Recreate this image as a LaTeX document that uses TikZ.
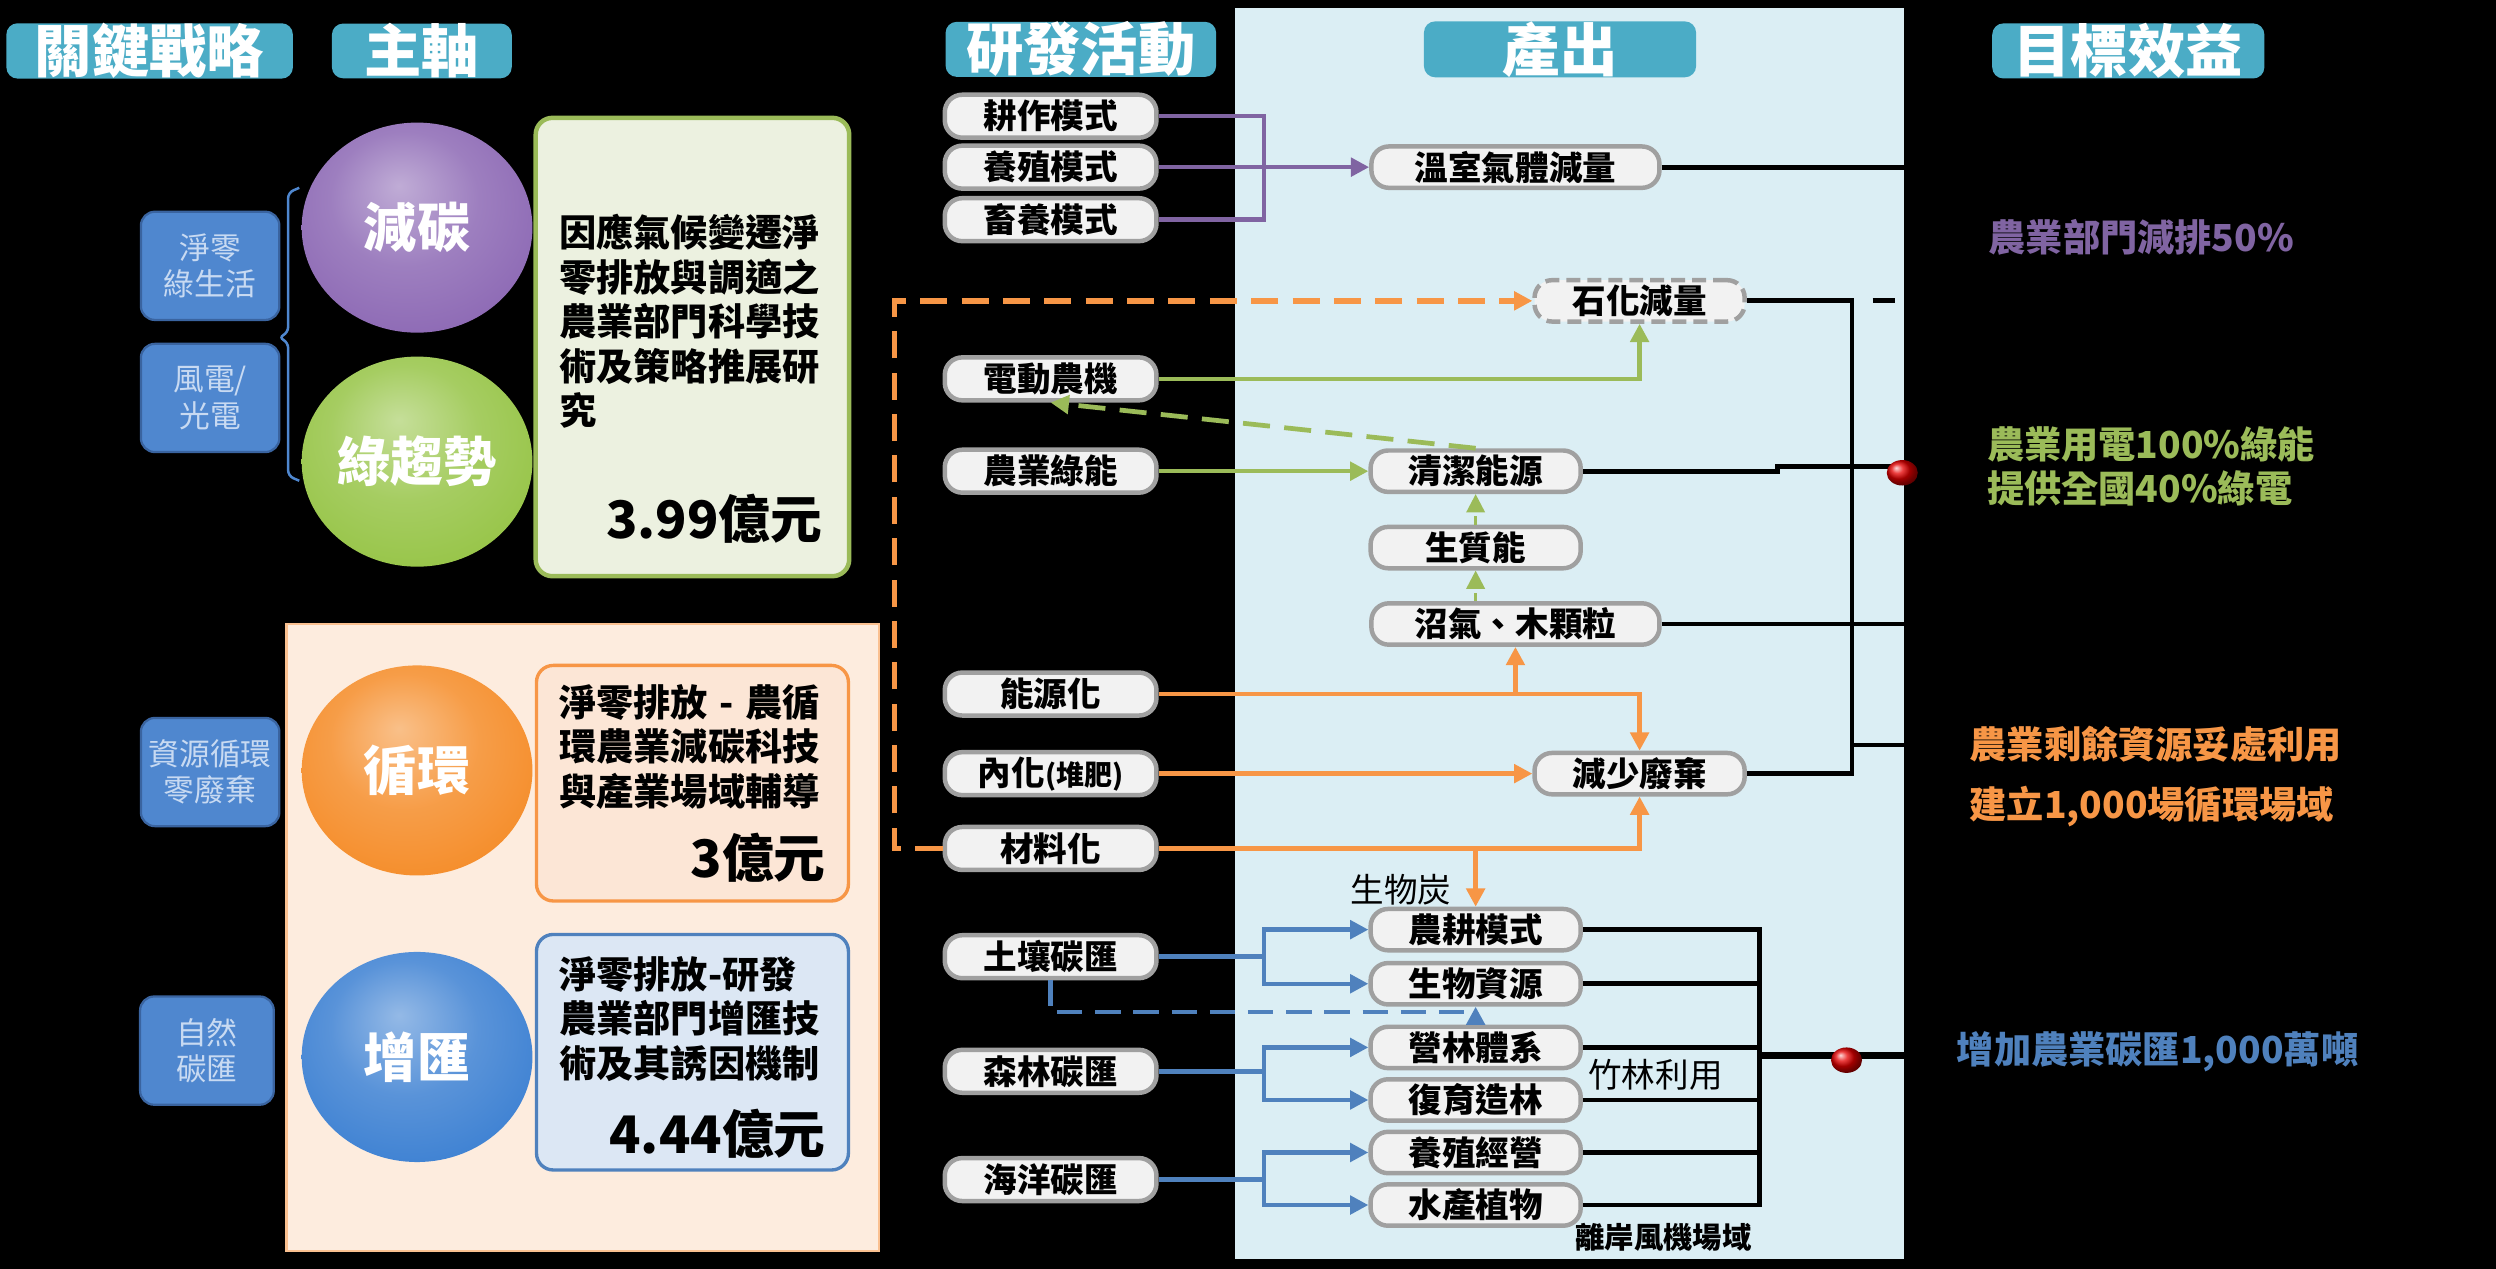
\documentclass[tikz,border=0pt]{standalone}
\usepackage{fontspec}
\setmainfont{Noto Sans CJK TC}
\usetikzlibrary{arrows.meta, calc, shapes.geometric}

\definecolor{hdrteal}{RGB}{75,172,198}
\definecolor{panelblue}{RGB}{219,238,244}
\definecolor{cpurple}{RGB}{128,100,162}
\definecolor{cgreen}{RGB}{155,187,89}
\definecolor{corange}{RGB}{247,150,70}
\definecolor{cblue}{RGB}{79,129,189}
\definecolor{ballpurple}{RGB}{140,104,180}
\definecolor{ballgreen}{RGB}{150,196,70}
\definecolor{ballorange}{RGB}{245,140,40}
\definecolor{ballblue}{RGB}{60,128,210}
\definecolor{pillgray}{RGB}{160,160,160}
\definecolor{pillfill}{RGB}{242,242,242}
\definecolor{peach}{RGB}{253,236,222}
\definecolor{peachline}{RGB}{250,192,144}
\definecolor{greenfill}{RGB}{236,241,224}
\definecolor{orangefill}{RGB}{252,230,214}
\definecolor{bluefill}{RGB}{220,231,244}
\definecolor{tagblue}{RGB}{79,135,207}
\definecolor{tagline}{RGB}{58,100,160}
\definecolor{tagtext}{RGB}{200,218,242}
\colorlet{softc}{black}

\pgfdeclareradialshading[softc]{softball}{\pgfpoint{-4bp}{10bp}}{%
  color(0bp)=(softc!55!white); color(16bp)=(softc!85!white);
  color(32bp)=(softc); color(44bp)=(softc!88!black); color(50bp)=(softc!75!black)}

\tikzset{
  hdr/.style      = {fill=hdrteal, rounded corners=4pt, text=white, inner sep=0pt,
                     minimum height=0.68cm, font=\fontsize{20.5}{20.5}\selectfont\bfseries},
  tag/.style      = {fill=tagblue, draw=tagline, line width=0.8pt, rounded corners=5pt,
                     text=tagtext, align=center, inner sep=0pt, minimum width=1.74cm,
                     minimum height=1.36cm, font=\fontsize{11}{13}\selectfont},
  axisball/.style = {ellipse, shade, shading=softball, inner sep=0pt, text=white,
                     minimum width=2.9cm, minimum height=2.64cm,
                     font=\fontsize{19}{19}\selectfont\bfseries},
  ballcol/.code   = {\colorlet{softc}{#1}},
  budget/.style   = {rounded corners=6pt, inner sep=0pt, minimum width=3.92cm},
  para/.style     = {align=left, inner sep=0pt, anchor=west,
                     font=\fontsize{13.3}{15.9}\selectfont\bfseries},
  amt/.style      = {inner sep=0pt, anchor=east, font=\fontsize{18.5}{18.5}\selectfont\bfseries},
  act/.style      = {draw=pillgray, fill=pillfill, line width=1.6pt, rounded corners=0.22cm,
                     inner sep=0pt, minimum width=2.66cm, minimum height=0.54cm,
                     font=\fontsize{12}{12}\selectfont\bfseries},
  outp/.style     = {act, minimum width=2.64cm, minimum height=0.52cm},
  widepill/.style = {minimum width=3.62cm},
  arr/.style      = {line width=1.6pt, -{Triangle[length=2.3mm, width=2.3mm]}},
  dasharr/.style  = {arr, line width=1.9pt, dash pattern=on 0.34cm off 0.18cm},
  blk/.style      = {line width=1.7pt, black},
  rball/.style    = {ellipse, ball color=red!90!black, inner sep=0pt,
                     minimum width=0.39cm, minimum height=0.32cm},
  lbl/.style      = {inner sep=0pt, font=\fontsize{12}{12}\selectfont},
  goal/.style     = {inner sep=0pt, anchor=west, align=left,
                     font=\fontsize{13.3}{15.9}\selectfont\bfseries},
}

\begin{document}
\begin{tikzpicture}[x=0.02cm, y=-0.02cm]
  \useasboundingbox (0,0) rectangle (1568,797);
  \fill[black] (0,0) rectangle (1568,797);
  \fill[panelblue] (776,5) rectangle (1196,791);
  \coordinate (edge) at (1196,0);
  \fill[peach, draw=peachline, line width=0.8pt] (180,392) rectangle (552,786);

  % headers
  \node[hdr, minimum width=3.6cm]  (hKey)  at (94,32)   {關鍵戰略};
  \node[hdr, minimum width=2.26cm] (hAxis) at (265,32)  {主軸};
  \node[hdr, minimum width=3.4cm]  (hRD)   at (679,31)  {研發活動};
  \node[hdr, minimum width=3.42cm] (hOut)  at (980,31)  {產出};
  \node[hdr, minimum width=3.42cm] (hGoal) at (1337,32) {目標效益};

  % key strategies
  \node[tag] (sNet)  at (132,167) {淨零\\綠生活};
  \node[tag] (sWind) at (132,250) {風電/\\光電};
  \node[tag] (sCyc)  at (132,485) {資源循環\\零廢棄};
  \node[tag, minimum width=1.68cm] (sNat) at (130,660) {自然\\碳匯};
  \draw[tagblue, line width=0.9pt, rounded corners=2pt]
    (188,118) -- (181,121) -- (181,209) -- (175,212) -- (181,215) -- (181,299) -- (188,302);

  % axes and budgets
  \node[axisball, ballcol=ballpurple] (cCut)   at (262,143) {減碳};
  \node[axisball, ballcol=ballgreen]  (cGreen) at (262,290) {綠趨勢};
  \node[axisball, ballcol=ballorange] (cCyc)   at (262,484) {循環};
  \node[axisball, ballcol=ballblue]   (cSink)  at (262,664) {增匯};

  \node[budget, draw=cgreen, fill=greenfill, line width=1.6pt, minimum width=3.94cm,
        minimum height=5.76cm] (tGreen) at (435,218) {};
  \node[budget, draw=corange, fill=orangefill, line width=1.2pt, minimum height=2.96cm] (tCyc) at (435,492) {};
  \node[budget, draw=cblue, fill=bluefill, line width=1.2pt, minimum height=2.96cm] (tSink) at (435,661) {};
  \node[para] (tGreenTxt) at (351,202) {因應氣候變遷淨\\零排放與調適之\\農業部門科學技\\術及策略推展研\\究};
  \node[amt] (tGreenAmt) at (517,326) {3.99億元};
  \node[para] (tCycTxt) at (351,469) {淨零排放\makebox[1em]{-}農循\\環農業減碳科技\\與產業場域輔導};
  \node[amt] (tCycAmt) at (519,539) {3億元};
  \node[para] (tSinkTxt) at (351,640) {淨零排放-研發\\農業部門增匯技\\術及其誘因機制};
  \node[amt] (tSinkAmt) at (519,712) {4.44億元};

  % R&D activities
  \node[act] (aTill)    at (660,73)  {耕作模式};
  \node[act] (aBreed)   at (660,105) {養殖模式};
  \node[act] (aLive)    at (660,138) {畜養模式};
  \node[act] (aElec)    at (660,238) {電動農機};
  \node[act] (aGreen)   at (660,296) {農業綠能};
  \node[act] (aEnergy)  at (660,436) {能源化};
  \node[act] (aCompost) at (660,486) {內化{\fontsize{10}{10}\selectfont(堆肥)}};
  \node[act] (aMat)     at (660,533) {材料化};
  \node[act] (aSoil)    at (660,601) {土壤碳匯};
  \node[act] (aForest)  at (660,673) {森林碳匯};
  \node[act] (aOcean)   at (660,741) {海洋碳匯};

  % outputs
  \node[outp, widepill] (oGHG)   at (952,105) {溫室氣體減量};
  \node[outp, dash pattern=on 5pt off 2.5pt] (oFossil) at (1030,189) {石化減量};
  \node[outp] (oClean)           at (927,296) {清潔能源};
  \node[outp] (oBio)             at (927,344) {生質能};
  \node[outp, widepill] (oBiogas) at (952,392) {沼氣、木顆粒};
  \node[outp] (oWaste)           at (1030,486) {減少廢棄};
  \node[outp] (oFarm)            at (927,584) {農耕模式};
  \node[outp] (oBioRes)          at (927,618) {生物資源};
  \node[outp] (oForestSys)       at (927,658) {營林體系};
  \node[outp] (oRestore)         at (927,691) {復育造林};
  \node[outp] (oAqua)            at (927,724) {養殖經營};
  \node[outp] (oPlant)           at (927,757) {水產植物};

  % purple
  \draw[line width=1.6pt, cpurple] (aTill.east) -| ($(aBreed.east)+(66,0)$) |- (aLive.east);
  \draw[arr, cpurple] (aBreed.east) -- (oGHG.west);

  % green
  \draw[dasharr, corange] (aMat.west) -- ++(-30,0) |- (oFossil.west);
  \draw[arr, cgreen] (aElec.east) -| (oFossil.south);
  \draw[dasharr, cgreen, line width=1.7pt] (oClean.north) -- (aElec.south);
  \draw[arr, cgreen] (aGreen.east) -- (oClean.west);
  \draw[arr, cgreen, line width=1pt, dash pattern=on 3pt off 2pt] (oBio.north) -- (oClean.south);
  \draw[arr, cgreen, line width=1pt, dash pattern=on 3pt off 2pt] (oBio.south |- oBiogas.north) -- (oBio.south);

  % orange
  \draw[arr, corange] (aEnergy.east) -| (oWaste.north);
  \draw[arr, corange] (aEnergy.east -| oBiogas.south) -- (oBiogas.south);
  \draw[arr, corange] (aCompost.east) -- (oWaste.west);
  \draw[arr, corange] (aMat.east) -| (oWaste.south);
  \draw[arr, corange] (aMat.east -| oFarm.north) -- (oFarm.north);
  \node[lbl] (lChar) at (880,559) {生物炭};

  % blue
  \foreach \src/\up/\dn in {aSoil/oFarm/oBioRes, aForest/oForestSys/oRestore, aOcean/oAqua/oPlant} {
    \draw[arr, cblue] (\src.east) -- ++(66,0) |- (\up.west);
    \draw[arr, cblue] (\src.east) -- ++(66,0) |- (\dn.west);
  }
  \draw[dasharr, cblue, line width=1.6pt, dash pattern=on 0.32cm off 0.16cm]
    (aSoil.south) -- ++(0,20) -| (oBioRes.south);

  % black to goals
  \draw[blk] (oGHG.east) -- (oGHG.east -| edge);
  \draw[blk] (oClean.east) -- ++(122,0) -- ++(0,-3) -- ($(oClean.east -| edge)+(0,-3)$);
  \draw[blk] (oBiogas.east) -- (oBiogas.east -| edge);
  \draw[blk] (oWaste.east) -| ($(oFossil.east)+(66,0)$) -- (oFossil.east);
  \draw[blk, dash pattern=on 0.28cm off 0.26cm, dash phase=0.28cm]
    ($(oFossil.east)+(66,0)$) -- (oFossil.east -| edge);
  \draw[blk] ($(oWaste.east)+(66,-18)$) -- ($(oWaste.east -| edge)+(0,-18)$);
  \draw[blk] (oFarm.east) -- ++(111,0) |- (oPlant.east);
  \foreach \n in {oBioRes, oForestSys, oRestore, oAqua}
    \draw[blk] (\n.east) -- ++(111,0);
  \draw[blk, line width=2.5pt] ($(oForestSys.east)+(111,5)$) -- ($(oForestSys.east -| edge)+(0,5)$);
  \node[rball] (ball1) at (1195,297) {};
  \node[rball] (ball2) at (1160,666) {};
  \node[lbl] (lBamboo) at (1040,675) {竹林利用};
  \node[lbl, font=\fontsize{10.5}{10.5}\selectfont\bfseries] (lWind) at (1045,777) {離岸風機場域};

  % goals
  \node[goal, text=cpurple] (gCut) at (1249,149) {農業部門減排50\%};
  \node[goal, text=cgreen] (gGreen) at (1248,293) {農業用電100\%綠能\\提供全國40\%綠電};
  \node[goal, text=corange, font=\fontsize{13.3}{21.5}\selectfont\bfseries] (gCyc) at (1237,488)
    {農業剩餘資源妥處利用\\建立1,000場循環場域};
  \node[goal, text=cblue] (gSink) at (1229,661) {增加農業碳匯1,000萬噸};
\end{tikzpicture}
\end{document}
